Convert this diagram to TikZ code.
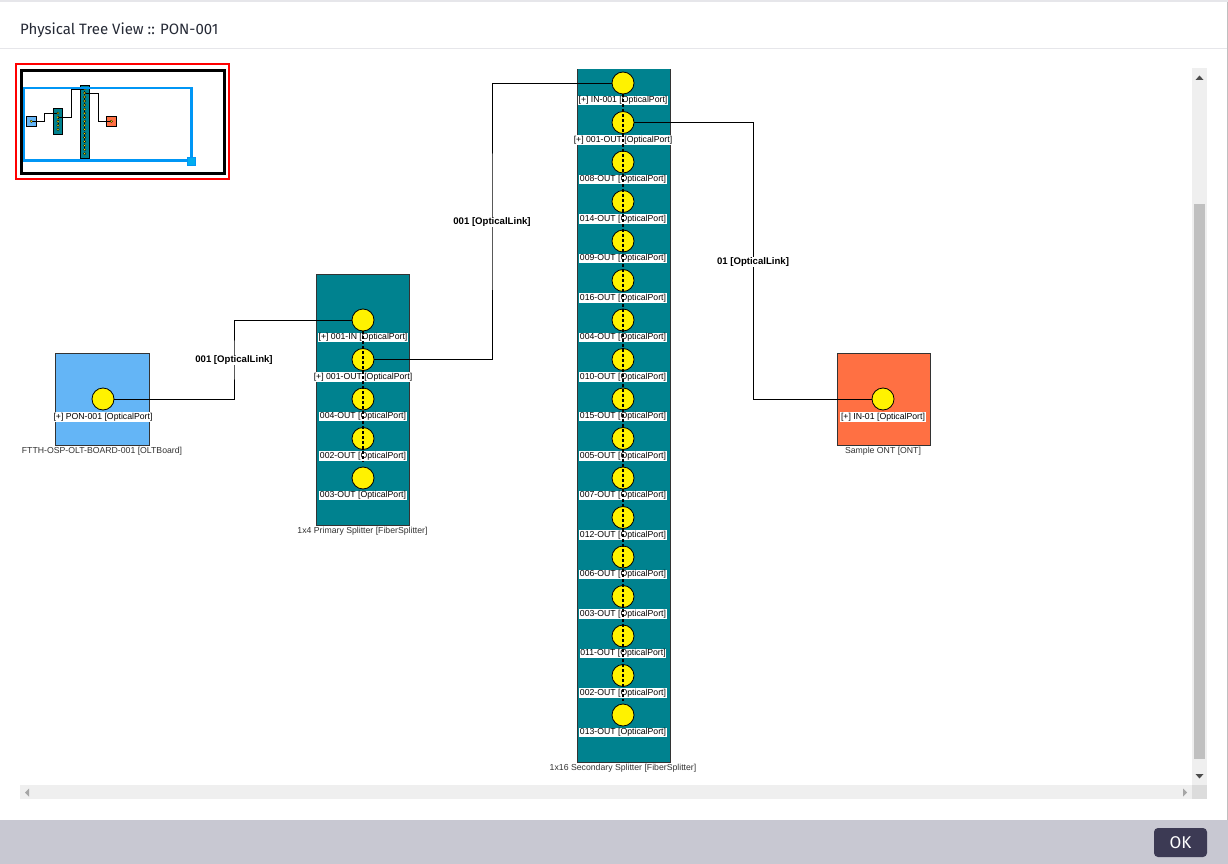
\documentclass[tikz,border=0pt]{standalone}
\usepackage{fontspec}
\setmainfont{Liberation Sans}
\newfontfamily\titlefont{Fira Sans}
\definecolor{oltblue}{RGB}{100,181,246}
\definecolor{ontorange}{RGB}{255,112,67}
\definecolor{splitteal}{RGB}{0,130,143}
\definecolor{footergray}{RGB}{200,200,210}
\definecolor{okbtn}{RGB}{60,58,84}
\definecolor{miniblue}{RGB}{0,150,245}
\definecolor{sbtrack}{RGB}{239,239,239}
\definecolor{sbthumb}{RGB}{192,192,192}
\definecolor{sbcorner}{RGB}{220,220,220}
\definecolor{sepgray}{RGB}{230,230,234}
\definecolor{titlecol}{RGB}{38,42,54}
\begin{document}
\begin{tikzpicture}[x=1pt,y=-1pt,
  port/.style={circle,draw=black,line width=0.8pt,fill=yellow,minimum size=22pt,inner sep=0pt},
  plabel/.style={fill=white,inner sep=0.7pt,font=\fontsize{8.7}{10}\selectfont},
  blabel/.style={inner sep=0.5pt,text=black!80,font=\fontsize{8.7}{10}\selectfont},
  llabel/.style={fill=white,inner sep=1pt,font=\fontsize{9.6}{11}\selectfont\bfseries},
  link/.style={draw=black,line width=0.9pt},
  box/.style={draw=black!80,line width=0.9pt,inner sep=0pt},
  inner/.style={draw=black,line width=1.1pt,dash pattern=on 3pt off 2pt},
  minilink/.style={draw=black,line width=0.7pt}]
\useasboundingbox (0,0) rectangle (1228,864);
\fill[white] (0,0) rectangle (1228,864);
\fill[sepgray] (0,0) rectangle (1228,2);
\draw[sepgray,line width=1pt] (0,48.5) -- (1228,48.5);
\draw[black!25,line width=1pt] (1227.5,2) -- (1227.5,820);
\node[anchor=west,inner sep=0pt,text=titlecol,font=\titlefont\fontsize{15}{18}\selectfont] (title) at (20,30) {Physical Tree View :: PON-001};
% footer
\fill[footergray] (0,820) rectangle (1228,864);
\node[fill=okbtn,rounded corners=4pt,minimum width=53pt,minimum height=29pt,inner sep=0pt,text=white,font=\titlefont\fontsize{17}{20}\selectfont] (ok) at (1180.5,842.5) {OK};
% scrollbars
\fill[sbtrack] (1192,68) rectangle (1207,785);
\fill[sbthumb] (1194,204) rectangle (1205,759);
\fill[black!70] (1195.5,80) -- (1203.5,80) -- (1199.5,75.5) -- cycle;
\fill[black!70] (1195.5,774) -- (1203.5,774) -- (1199.5,778.5) -- cycle;
\fill[sbtrack] (20,785) rectangle (1192,799);
\fill[sbcorner] (1192,785) rectangle (1207,799);
\fill[black!35] (29,788.5) -- (29,796.5) -- (25,792.5) -- cycle;
\fill[black!35] (1183,788.5) -- (1183,796.5) -- (1187,792.5) -- cycle;
% main diagram
\begin{scope}
\clip (20,69.5) rectangle (1192,785);
\node[box,fill=oltblue,minimum width=94pt,minimum height=92pt] (olt) at (102,399) {};
\node[box,fill=splitteal,minimum width=93pt,minimum height=251pt] (sp1) at (362.5,399.5) {};
\node[box,fill=splitteal,minimum width=93pt,minimum height=714pt] (sp2) at (623.5,405) {};
\node[box,fill=ontorange,minimum width=93pt,minimum height=92pt] (ont) at (883.5,399) {};
\node[blabel] (oltl) at (102,451) {FTTH-OSP-OLT-BOARD-001 [OLTBoard]};
\node[blabel] (sp1l) at (362.5,531) {1x4 Primary Splitter [FiberSplitter]};
\node[blabel] (sp2l) at (623,768) {1x16 Secondary Splitter [FiberSplitter]};
\node[blabel] (ontl) at (883,451) {Sample ONT [ONT]};
% links
\coordinate (c1) at (234,360);
\coordinate (c2) at (492,222);
\coordinate (c3) at (753,262);
\node[port] (oltp) at (103,399) {};
\node[port] (ontp) at (883,399) {};
\foreach \lab [count=\i from 0] in {{[+] 001-IN},{[+] 001-OUT},004-OUT,002-OUT,003-OUT}{
  \node[port] (p\i) at (363,320+\i*39.5) {};
  \node[plabel] (pl\i) at (363,337.5+\i*39.5) {\lab{} [OpticalPort]};
}
\foreach \lab [count=\i from 0] in {{[+] IN-001},{[+] 001-OUT},008-OUT,014-OUT,009-OUT,016-OUT,004-OUT,010-OUT,015-OUT,005-OUT,007-OUT,012-OUT,006-OUT,003-OUT,011-OUT,002-OUT,013-OUT}{
  \node[port] (s\i) at (623,83+\i*39.5) {};
  \node[plabel] (sl\i) at (623,100.5+\i*39.5) {\lab{} [OpticalPort]};
}
\node[plabel] (oltpl) at (103,417) {[+] PON-001 [OpticalPort]};
\node[plabel] (ontpl) at (883,417) {[+] IN-01 [OpticalPort]};
\draw[link] (oltp.east) -| (c1) |- (p0.west);
\draw[link] (p1.east) -| (c2) |- (s0.west);
\draw[link] (s1.east) -| (c3) |- (ontp.west);
\draw[inner] (p0.south) -- ([yshift=-12pt]p3.south);
\draw[inner] (s0.south) -- ([yshift=-14pt]s15.south);
\node[llabel] (l1) at (c1) {001 [OpticalLink]};
\node[llabel] (l2) at (c2) {001 [OpticalLink]};
\node[llabel] (l3) at (c3) {01 [OpticalLink]};
\end{scope}
% minimap
\fill[white] (15.8,64.2) rectangle (229.2,179.2);
\begin{scope}
\clip (23,72) rectangle (223.5,171.5);
\begin{scope}[shift={(20.73,80.36)},scale=0.1026]
\filldraw[fill=oltblue,draw=black,line width=0.8pt] (55,353) rectangle (149,445);
\filldraw[fill=splitteal,draw=black,line width=0.8pt] (316,274) rectangle (409,525);
\filldraw[fill=splitteal,draw=black,line width=0.8pt] (577,48) rectangle (670,762);
\filldraw[fill=ontorange,draw=black,line width=0.8pt] (837,353) rectangle (930,445);
\draw[minilink] (103,399) -| (234,320) -- (363,320);
\draw[minilink] (363,359.5) -| (492,83) -- (623,83);
\draw[minilink] (623,122.5) -| (753,399) -- (883,399);
\draw[black,line width=0.8pt,dash pattern=on 1.2pt off 1.2pt] (363,320) -- (363,450);
\draw[black,line width=0.8pt,dash pattern=on 1.2pt off 1.2pt] (623,83) -- (623,690);
\foreach \yy in {320,359.5,399,438.5,478}{\filldraw[fill=yellow,draw=black,line width=0.3pt] (363,\yy) circle[radius=12];}
\foreach \i in {0,...,16}{\filldraw[fill=yellow,draw=black,line width=0.3pt] (623,83+\i*39.5) circle[radius=12];}
\filldraw[fill=yellow,draw=black,line width=0.3pt] (103,399) circle[radius=12];
\filldraw[fill=yellow,draw=black,line width=0.3pt] (883,399) circle[radius=12];
\end{scope}
\end{scope}
\draw[red,line width=1.7pt] (15.8,64.2) rectangle (229.2,179.2);
\draw[black,line width=3pt] (21.7,70.7) rectangle (224.7,173);
\draw[miniblue,line width=2.7pt] (24,88) rectangle (191.3,160.8);
\filldraw[fill=cyan,draw=miniblue,line width=0.8pt] (187.5,157.5) rectangle (195.5,165.5);
\end{tikzpicture}
\end{document}
